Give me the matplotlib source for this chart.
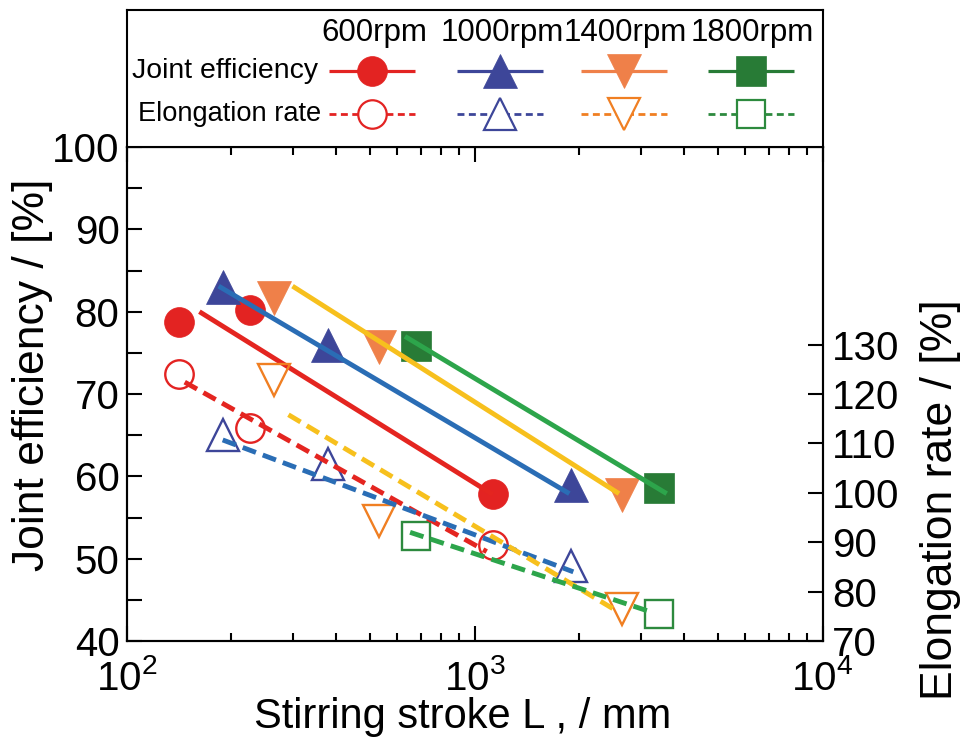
import matplotlib
matplotlib.use("Agg")
import matplotlib.pyplot as plt
from matplotlib.ticker import FixedLocator, LogLocator, NullFormatter

plt.rcParams['font.family'] = ['Liberation Sans', 'DejaVu Sans']
plt.rcParams['mathtext.fontset'] = 'custom'
plt.rcParams['mathtext.rm'] = 'Liberation Sans'
plt.rcParams['mathtext.it'] = 'Liberation Sans:italic'
plt.rcParams['mathtext.default'] = 'regular'

# ---- data -------------------------------------------------------------
rpm_labels = ['600rpm', '1000rpm', '1400rpm', '1800rpm']

stroke_600 = [142, 226, 1128]
stroke_1000 = [189, 380, 1889]
stroke_1400 = [265, 533, 2648]
stroke_1800 = [678, 3390]

joint_600 = [78.7, 80.2, 57.9]
joint_1000 = [83.0, 75.9, 59.0]
joint_1400 = [81.7, 75.7, 57.7]
joint_1800 = [75.8, 58.6]

elong_600 = [124.1, 113.1, 89.5]
elong_1000 = [111.8, 105.9, 85.2]
elong_1400 = [122.9, 94.2, 76.4]
elong_1800 = [91.2, 75.5]

# fitted trend lines (start / end of each line)
joint_fit_start_L = [162, 184, 300, 631]
joint_fit_end_L = [1128, 1873, 2601, 3567]
joint_fit_start = [80.0, 83.1, 83.1, 77.0]
joint_fit_end = [57.8, 57.9, 57.9, 57.9]

elong_fit_start_L = [147, 189, 292, 653]
elong_fit_end_L = [1084, 1923, 2589, 3208]
elong_fit_start = [122.4, 110.7, 115.8, 92.0]
elong_fit_end = [88.1, 84.0, 75.9, 75.9]

left_ticks = [40, 50, 60, 70, 80, 90, 100]
left_minor = [45, 55, 65, 75, 85, 95]
right_ticks = [70, 80, 90, 100, 110, 120, 130]

# ---- styles -----------------------------------------------------------
strokes = [stroke_600, stroke_1000, stroke_1400, stroke_1800]
joints = [joint_600, joint_1000, joint_1400, joint_1800]
elongs = [elong_600, elong_1000, elong_1400, elong_1800]

markers = ['o', '^', 'v', 's']
marker_sizes = [21.5, 24, 24, 21.5]
fill_colors = ['#e32322', '#3d4699', '#ef8049', '#287b36']
open_colors = ['#e32322', '#3d4699', '#f07f22', '#2d8a3e']
fit_colors = ['#e42520', '#2a6db5', '#f7c01d', '#2da54b']

W_PX, H_PX = 963, 738
fig = plt.figure(figsize=(W_PX / 100, H_PX / 100), dpi=100)

ax_l, ax_r, ax_t, ax_b = 126.5, 822.5, 147, 641
ax = fig.add_axes([ax_l / W_PX, 1 - ax_b / H_PX,
                   (ax_r - ax_l) / W_PX, (ax_b - ax_t) / H_PX])
ax2 = ax.twinx()

ax.set_xscale('log')
ax.set_xlim(100, 10000)
ax.set_ylim(40, 100)
ax2.set_ylim(70, 170)

for i in range(4):
    ax.plot(strokes[i], joints[i], ls='none', marker=markers[i],
            ms=marker_sizes[i], mfc=fill_colors[i], mec=fill_colors[i],
            mew=0.5, zorder=2)
    ax.plot([joint_fit_start_L[i], joint_fit_end_L[i]],
            [joint_fit_start[i], joint_fit_end[i]],
            color=fit_colors[i], lw=3.5, solid_capstyle='butt', zorder=3)
    ax2.plot(strokes[i], elongs[i], ls='none', marker=markers[i],
             ms=marker_sizes[i] - 1, mfc='none', mec=open_colors[i],
             mew=1.7, zorder=2)
    ax2.plot([elong_fit_start_L[i], elong_fit_end_L[i]],
             [elong_fit_start[i], elong_fit_end[i]],
             color=fit_colors[i], lw=3.5, dashes=(2.9, 1.5),
             dash_capstyle='butt', zorder=3)

# ---- axes styling -----------------------------------------------------
for a in (ax, ax2):
    for s in a.spines.values():
        s.set_linewidth(1.5)

ax.yaxis.set_major_locator(FixedLocator(left_ticks))
ax.yaxis.set_minor_locator(FixedLocator(left_minor))
ax.tick_params(axis='y', which='both', direction='in', length=11,
               width=1.5, left=True, right=False, labelsize=29, pad=5)
ax.xaxis.set_major_locator(LogLocator(base=10))
ax.xaxis.set_minor_locator(LogLocator(base=10, subs=range(2, 10)))
ax.xaxis.set_minor_formatter(NullFormatter())
ax.tick_params(axis='x', which='major', direction='in', length=10.5,
               width=1.5, top=True, bottom=True, labelsize=29, pad=13)
ax.tick_params(axis='x', which='minor', direction='in', length=6,
               width=1.5, top=True, bottom=True)

ax2.yaxis.set_major_locator(FixedLocator(right_ticks))
ax2.tick_params(axis='y', which='major', direction='in', length=11,
                width=1.5, right=True, left=False, labelsize=29, pad=7)
ax2.tick_params(axis='y', which='minor', right=False, left=False)

fig.text(33 / W_PX, 1 - 375 / H_PX, 'Joint efficiency / [%]', rotation=90,
         ha='center', va='center', fontsize=32)
fig.text(940 / W_PX, 1 - 500 / H_PX, 'Elongation rate / [%]', rotation=90,
         ha='center', va='center', fontsize=32)
fig.text(463 / W_PX, 1 - 717 / H_PX, 'Stirring stroke L , / mm',
         ha='center', va='center', fontsize=30)

# ---- legend panel above the plot --------------------------------------
leg_top = 10
leg = fig.add_axes([ax_l / W_PX, 1 - ax_t / H_PX,
                    (ax_r - ax_l) / W_PX, (ax_t - leg_top) / H_PX])
leg.set_xlim(ax_l, ax_r)
leg.set_ylim(ax_t, leg_top)
leg.set_xticks([])
leg.set_yticks([])
for s in leg.spines.values():
    s.set_linewidth(1.5)

col_x = [372, 500, 624, 751]
head_x = [374, 502, 625, 752]
half = 43
row_joint, row_elong, row_head = 71, 114, 33

for i in range(4):
    leg.text(head_x[i], row_head, rpm_labels[i], ha='center', va='center',
             fontsize=22.5)
    leg.plot([col_x[i] - half, col_x[i] + half], [row_joint, row_joint],
             color=fill_colors[i], lw=2.3, solid_capstyle='butt')
    leg.plot([col_x[i]], [row_joint], marker=markers[i],
             ms=marker_sizes[i], mfc=fill_colors[i], mec=fill_colors[i],
             mew=0.5, ls='none')
    leg.plot([col_x[i] - half, col_x[i] + half], [row_elong, row_elong],
             color=open_colors[i], lw=2.0, dashes=(2.5, 1.6),
             dash_capstyle='butt')
    leg.plot([col_x[i]], [row_elong], marker=markers[i],
             ms=marker_sizes[i] - 1, mfc='white', mec=open_colors[i],
             mew=1.6, ls='none')

leg.text(318, row_joint, 'Joint efficiency', ha='right', va='center',
         fontsize=20.4)
leg.text(321, row_elong, 'Elongation rate', ha='right', va='center',
         fontsize=19.6)

fig.savefig('out.png', dpi=100)
